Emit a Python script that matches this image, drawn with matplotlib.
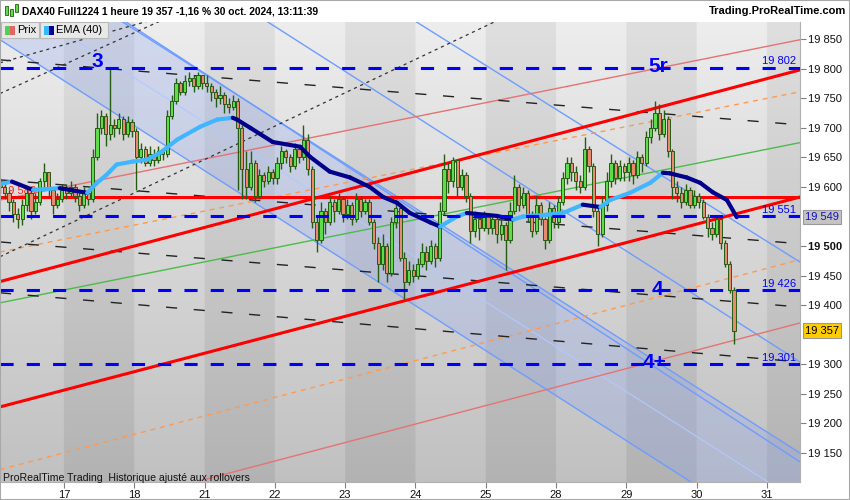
import numpy as np
import matplotlib.pyplot as plt
from matplotlib.patches import Rectangle
from matplotlib.collections import LineCollection

plt.rcParams['font.family'] = ['Liberation Sans', 'DejaVu Sans']

# Jours affichés (le 16 est le premier jour, index 0)
DAY_LABELS = ['17', '18', '21', '22', '23', '24', '25', '28', '29', '30', '31']
BARS_PER_DAY = 16

# Bougies horaires, une ligne par jour (16, 17, 18, 21, 22, 23, 24, 25, 28, 29, 30)
first_open = 19615
closes = [
    [19610, 19600, 19590, 19575, 19555, 19545, 19570, 19590, 19560, 19575, 19610, 19625, 19595, 19570, 19580, 19595],
    [19590, 19600, 19585, 19570, 19590, 19580, 19650, 19700, 19720, 19690, 19705, 19700, 19715, 19690, 19710, 19695],
    [19650, 19665, 19640, 19655, 19645, 19660, 19655, 19720, 19745, 19775, 19760, 19780, 19785, 19770, 19790, 19775],
    [19770, 19760, 19750, 19755, 19740, 19735, 19745, 19700, 19630, 19600, 19640, 19585, 19620, 19610, 19625, 19615],
    [19640, 19660, 19650, 19635, 19665, 19650, 19680, 19630, 19540, 19510, 19560, 19540, 19575, 19560, 19580, 19555],
    [19570, 19545, 19580, 19560, 19575, 19540, 19505, 19470, 19500, 19455, 19540, 19565, 19480, 19440, 19460, 19450],
    [19470, 19490, 19475, 19500, 19480, 19560, 19630, 19610, 19645, 19600, 19620, 19585, 19525, 19545, 19530, 19550],
    [19530, 19545, 19520, 19535, 19510, 19560, 19600, 19570, 19590, 19550, 19525, 19570, 19545, 19510, 19565, 19540],
    [19575, 19615, 19640, 19625, 19610, 19600, 19665, 19635, 19560, 19520, 19570, 19610, 19640, 19615, 19635, 19625],
    [19640, 19620, 19650, 19640, 19685, 19700, 19725, 19690, 19715, 19660, 19600, 19590, 19575, 19595, 19570, 19585],
    [19575, 19550, 19530, 19520, 19545, 19505, 19470, 19425, 19357],
]
highs = [
    [19625, 19615, 19605, 19595, 19580, 19565, 19580, 19600, 19595, 19590, 19615, 19640, 19625, 19600, 19590, 19605],
    [19605, 19610, 19605, 19590, 19600, 19595, 19665, 19725, 19730, 19725, 19800, 19715, 19725, 19720, 19720, 19715],
    [19700, 19675, 19670, 19670, 19665, 19670, 19665, 19730, 19755, 19785, 19780, 19790, 19795, 19790, 19795, 19790],
    [19790, 19775, 19765, 19770, 19760, 19750, 19755, 19750, 19705, 19660, 19660, 19645, 19630, 19625, 19635, 19630],
    [19650, 19670, 19665, 19655, 19675, 19670, 19705, 19690, 19635, 19550, 19575, 19565, 19585, 19580, 19590, 19585],
    [19580, 19575, 19590, 19585, 19580, 19580, 19545, 19515, 19520, 19505, 19550, 19580, 19570, 19490, 19475, 19470],
    [19480, 19505, 19500, 19510, 19505, 19575, 19655, 19640, 19650, 19645, 19630, 19625, 19590, 19560, 19550, 19560],
    [19555, 19555, 19550, 19545, 19540, 19575, 19620, 19605, 19600, 19595, 19560, 19585, 19575, 19550, 19575, 19570],
    [19585, 19625, 19650, 19650, 19635, 19620, 19685, 19670, 19640, 19570, 19585, 19625, 19655, 19645, 19645, 19640],
    [19650, 19645, 19660, 19655, 19695, 19715, 19745, 19740, 19730, 19720, 19665, 19610, 19600, 19605, 19600, 19595],
    [19590, 19580, 19555, 19540, 19550, 19550, 19510, 19475, 19430],
]
lows = [
    [19600, 19590, 19580, 19560, 19540, 19530, 19535, 19560, 19545, 19555, 19570, 19600, 19585, 19555, 19565, 19575],
    [19580, 19585, 19575, 19560, 19565, 19570, 19575, 19645, 19690, 19670, 19680, 19685, 19690, 19680, 19685, 19685],
    [19595, 19640, 19635, 19635, 19635, 19640, 19645, 19650, 19715, 19740, 19755, 19755, 19770, 19760, 19765, 19765],
    [19760, 19745, 19735, 19740, 19725, 19725, 19730, 19595, 19580, 19580, 19595, 19575, 19580, 19600, 19605, 19605],
    [19605, 19630, 19640, 19625, 19630, 19640, 19645, 19620, 19530, 19490, 19505, 19520, 19535, 19540, 19555, 19540],
    [19545, 19535, 19540, 19550, 19555, 19535, 19495, 19440, 19460, 19440, 19450, 19530, 19475, 19410, 19435, 19440],
    [19445, 19465, 19460, 19470, 19465, 19475, 19555, 19590, 19600, 19585, 19595, 19575, 19505, 19515, 19510, 19525],
    [19520, 19520, 19505, 19510, 19460, 19505, 19555, 19560, 19565, 19540, 19515, 19520, 19535, 19495, 19505, 19530],
    [19530, 19570, 19605, 19610, 19595, 19590, 19595, 19625, 19550, 19500, 19515, 19560, 19600, 19605, 19610, 19610],
    [19610, 19605, 19615, 19625, 19635, 19675, 19695, 19680, 19685, 19650, 19580, 19575, 19565, 19570, 19565, 19565],
    [19565, 19545, 19515, 19510, 19515, 19495, 19465, 19420, 19335],
]

# EMA (40) : position en jours, valeur
ema_day = [0.09, 0.26, 0.56, 0.94, 1.33, 1.47, 1.61, 1.75, 1.98, 2.18, 2.37, 2.61, 2.94, 3.18, 3.40, 3.46,
           3.65, 3.97, 4.36, 4.50, 4.78, 5.07, 5.35, 5.54, 5.74, 5.92, 6.21, 6.35, 6.59, 6.73, 7.16, 7.39,
           7.53, 7.87, 8.10, 8.38, 8.63, 8.77, 9.05, 9.34, 9.52, 9.62, 9.86, 10.05, 10.23, 10.43, 10.57]
ema_val = [19605, 19609, 19595, 19598, 19590, 19607, 19621, 19638, 19643, 19646, 19658, 19680, 19702, 19714, 19717, 19714,
           19700, 19676, 19668, 19651, 19626, 19616, 19600, 19583, 19573, 19556, 19540, 19533, 19550, 19556, 19551, 19545,
           19550, 19553, 19556, 19570, 19566, 19578, 19590, 19607, 19624, 19623, 19616, 19607, 19591, 19578, 19549]

# Niveaux horizontaux (bleu) et leurs étiquettes
levels = [19802, 19551, 19426, 19301]
level_tags = ['3', '5r', '4', '4+']
tag_day = [1.48, 9.46, 9.44, 9.40]
tag_price = [19812, 19803, 19426, 19303]
red_level = 19583

# Droites tracées : (jour début, prix début, jour fin, prix fin)
red_thick = [(0.09, 19440, 11.47, 19798), (0.09, 19228, 11.47, 19583)]
red_thin = [(0.09, 19578, 11.47, 19849), (2.93, 19103, 11.47, 19370)]
orange_lines = [(0.09, 19490, 11.47, 19761), (0.09, 19122, 11.47, 19477)]
green_lines = [(0.09, 19404, 11.47, 19675)]
black_long = [(0.09, 19815, 11.47, 19705), (0.09, 19612, 11.47, 19504),
              (0.09, 19507, 11.47, 19397), (0.09, 19421, 11.47, 19304)]
black_short = [(0.09, 19810, 2.27, 19883), (0.09, 19758, 2.45, 19885), (0.09, 19482, 7.12, 19879)]
blue_lines = [(0.09, 20018, 11.47, 19135), (3.65, 19898, 11.47, 19304), (5.80, 19895, 11.47, 19473)]
# Canal descendant ombré : bord inférieur, bord supérieur
channel_low = (0.09, 19849, 11.47, 18983)
channel_high = (0.09, 20011, 11.47, 19150)

price_ticks = [19150, 19200, 19250, 19300, 19400, 19450, 19500, 19600, 19650, 19700, 19750, 19800, 19850]
last_price = 19357
last_ema = 19549

X_MIN, X_MAX = 0.09, 11.47
Y_MIN, Y_MAX = 19101, 19879
EDGE = '#235c12'


def fmt(v):
    return '{:,}'.format(v).replace(',', ' ')


def draw_lines(ax, lines, **kw):
    for u0, p0, u1, p1 in lines:
        ax.plot([u0, u1], [p0, p1], **kw)


fig = plt.figure(figsize=(8.5, 5), dpi=100)
fig.patch.set_facecolor('white')
ax = fig.add_axes([0, 18 / 500, 800 / 850, 460 / 500])

# Fond : bandes par jour avec dégradé vertical
cols = np.linspace(0, 12, 1200, endpoint=False)
odd = (np.floor(cols) % 2 == 1)[None, :]
t = np.linspace(0, 1, 200)[:, None]
top = np.where(odd, 0.875, 0.93)
bot = np.where(odd, 0.70, 0.755)
shade = top + (bot - top) * t
img = np.repeat(shade[:, :, None], 3, axis=2)
ax.imshow(img, extent=[0, 12, Y_MIN, Y_MAX], aspect='auto', origin='upper',
          zorder=0, interpolation='bilinear')

# Canal ombré
ax.fill_between([channel_low[0], channel_low[2]], [channel_low[1], channel_low[3]],
                [channel_high[1], channel_high[3]], color=(0.55, 0.65, 0.95), alpha=0.28,
                lw=0, zorder=1)
draw_lines(ax, [channel_low, channel_high], color='#6e9cff', lw=1, zorder=2)
mid = (channel_low[0], (channel_low[1] + channel_high[1]) / 2,
       channel_low[2], (channel_low[3] + channel_high[3]) / 2)
draw_lines(ax, [mid], color='#b4c8ff', lw=0.8, zorder=2)
draw_lines(ax, blue_lines, color='#6e9cff', lw=1, zorder=2)

# Autres droites
draw_lines(ax, red_thin, color='#e57373', lw=1, zorder=2)
draw_lines(ax, green_lines, color='#4cbb4c', lw=1, zorder=2)
draw_lines(ax, orange_lines, color='#ff9950', lw=1, dashes=(3.5, 3.5), zorder=2)
draw_lines(ax, black_long, color='#222222', lw=1, dashes=(8, 12), zorder=2)
draw_lines(ax, black_short, color='#333333', lw=0.9, dashes=(2.5, 3), zorder=2)
draw_lines(ax, red_thick, color='#ff0000', lw=2.2, zorder=3)
ax.axhline(red_level, color='#ff0000', lw=2.2, zorder=3)
ax.text(0.12, red_level + 2, fmt(red_level), color='#ff2020', fontsize=8, va='bottom', zorder=3)

# Bougies
opens, u, c_all, h_all, l_all = [], [], [], [], []
prev = first_open
for i, day in enumerate(closes):
    for k, c in enumerate(day):
        opens.append(prev)
        u.append(i + (k + 0.5) / BARS_PER_DAY)
        c_all.append(c)
        h_all.append(highs[i][k])
        l_all.append(lows[i][k])
        prev = c
opens = np.array(opens)
c_all = np.array(c_all)
fills = ['#5edc4a' if c >= o else '#e88a70' for o, c in zip(opens, c_all)]
ax.vlines(u, l_all, h_all, color=EDGE, lw=1, zorder=4)
ax.bar(u, np.abs(c_all - opens), width=0.045, bottom=np.minimum(opens, c_all),
       color=fills, edgecolor=EDGE, lw=0.7, zorder=4.5)

# EMA : bleu clair en hausse, bleu foncé en baisse
pts = np.column_stack([ema_day, ema_val])
segs = np.stack([pts[:-1], pts[1:]], axis=1)
seg_cols = ['#3fb6ff' if b >= a else '#00008c' for a, b in zip(ema_val[:-1], ema_val[1:])]
ax.add_collection(LineCollection(segs, colors=seg_cols, lw=3, capstyle='round',
                                 joinstyle='round', zorder=5))

# Niveaux bleus
for lv in levels:
    ax.axhline(lv, color='#0000ff', lw=2.2, dashes=(4.3, 4.3), zorder=6)
    ax.text(11.42, lv + 2, fmt(lv), color='#0000ff', fontsize=8, ha='right', va='bottom', zorder=6)
for tag, td, tp in zip(level_tags, tag_day, tag_price):
    ax.text(td, tp, tag, color='#0000ff', fontsize=15, weight='bold', ha='center',
            va='center', zorder=7)

ax.text(0.004, -0.002, 'ProRealTime Trading  Historique ajusté aux rollovers', transform=ax.transAxes,
        fontsize=7.6, color='#111111', va='bottom', zorder=8)

ax.set_xlim(X_MIN, X_MAX)
ax.set_ylim(Y_MIN, Y_MAX)

# Axes
for side in ['top', 'left']:
    ax.spines[side].set_visible(False)
for side in ['right', 'bottom']:
    ax.spines[side].set_color('#b0b0b0')
ax.set_xticks(range(1, 12))
ax.set_xticklabels(DAY_LABELS)
ax.yaxis.tick_right()
ax.set_yticks(price_ticks)
ax.set_yticklabels([fmt(v) for v in price_ticks])
ax.tick_params(axis='both', labelsize=8, length=4, color='#808080', pad=2, labelcolor='#111111')
for lab, v in zip(ax.get_yticklabels(), price_ticks):
    if v == 19500:
        lab.set_fontweight('bold')

# Étiquettes de prix sur l'axe
ytr = ax.get_yaxis_transform()
ax.text(1.006, last_ema, fmt(last_ema), transform=ytr, color='#1010c8', fontsize=8, va='center',
        clip_on=False, bbox=dict(boxstyle='square,pad=0.2', fc='#c4c4c4', ec='#999999', lw=0.8))
ax.text(1.006, last_price, fmt(last_price), transform=ytr, color='black', fontsize=8, va='center',
        clip_on=False, bbox=dict(boxstyle='square,pad=0.2', fc='#ffcc00', ec='#999999', lw=0.8))

# En-tête
fig.text(22 / 850, 1 - 11 / 500, 'DAX40 Full1224 1 heure 19 357 -1,16 % 30 oct. 2024, 13:11:39',
         fontsize=7.4, weight='bold', va='center')
fig.text(846 / 850, 1 - 11 / 500, 'Trading.ProRealTime.com', fontsize=8, weight='bold',
         va='center', ha='right')
for bx, by, bh in [(5, 6, 9), (10, 9, 7), (15, 4, 8)]:
    fig.add_artist(Rectangle((bx / 850, 1 - (by + bh) / 500), 2.5 / 850, bh / 500,
                             transform=fig.transFigure, fc='#5edc4a', ec=EDGE, lw=0.6))

# Légende
for x0, w, label, c1, c2 in [(1, 38, 'Prix', '#55cc55', '#e06666'),
                             (40, 68, 'EMA (40)', '#33bbff', '#000099')]:
    fig.add_artist(Rectangle((x0 / 850, 1 - 38 / 500), w / 850, 16 / 500, transform=fig.transFigure,
                             fc='#e8e8e8', ec='#b8b8b8', lw=0.8, zorder=10))
    fig.add_artist(Rectangle(((x0 + 4) / 850, 1 - 35 / 500), 5 / 850, 9 / 500,
                             transform=fig.transFigure, fc=c1, lw=0, zorder=11))
    fig.add_artist(Rectangle(((x0 + 9) / 850, 1 - 35 / 500), 5 / 850, 9 / 500,
                             transform=fig.transFigure, fc=c2, lw=0, zorder=11))
    fig.text((x0 + 16) / 850, 1 - 30 / 500, label, fontsize=8, va='center', zorder=12)

fig.add_artist(Rectangle((0, 0), 1, 1, transform=fig.transFigure, fill=False, ec='#a8a8a8', lw=1.5))

fig.savefig('out.png', dpi=100)
